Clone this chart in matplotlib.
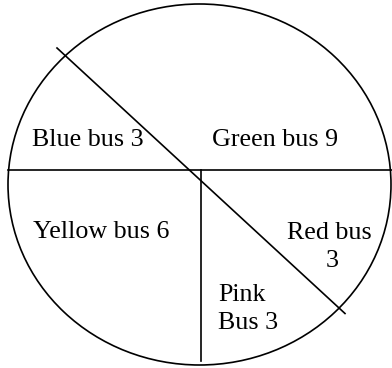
import matplotlib
matplotlib.use("Agg")
import matplotlib.pyplot as plt
from matplotlib.patches import Ellipse

# Data
labels = ["Blue bus 3", "Green bus 9", "Yellow bus 6", "Red bus\n      3", "Pink\nBus 3"]
values = [3, 9, 6, 3, 3]
# label anchor positions (pixel coords, left / baseline of last line)
label_x = [32, 212, 33, 287, 218]
label_y = [146, 146, 238, 267, 329]

W, H = 392, 368
fig = plt.figure(figsize=(W / 100, H / 100), dpi=100)
ax = fig.add_axes([0, 0, 1, 1])
ax.set_xlim(0, W)
ax.set_ylim(H, 0)
ax.axis("off")

lw = 1.2
ax.add_patch(Ellipse((199.5, 184.5), 383, 361, fill=False, lw=lw, color="black"))
# dividing lines
ax.plot([8, 392], [169.5, 169.5], color="black", lw=lw)
ax.plot([57, 345], [48, 313.5], color="black", lw=lw)
ax.plot([201.5, 201.5], [169.5, 361], color="black", lw=lw)

for lab, x, y in zip(labels, label_x, label_y):
    ax.text(x, y, lab, fontsize=18.7, family="Liberation Serif",
            ha="left", va="baseline", linespacing=1.38)

fig.savefig("out.png", dpi=100)
